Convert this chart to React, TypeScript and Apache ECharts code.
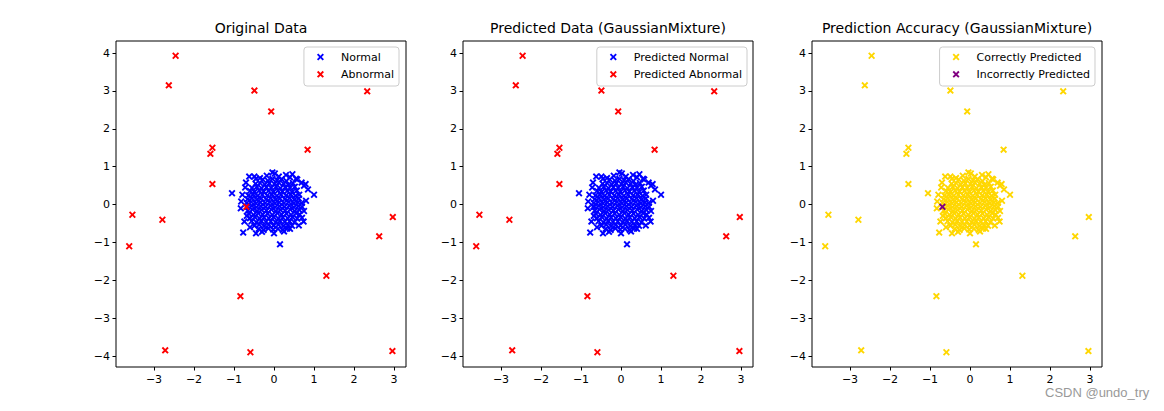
import React, { useEffect, useRef } from "react";
import * as echarts from "echarts";

// ---- Data ----
const normalPoints: number[][] = [
  [-0.28, 0.66], [-0.15, 0.63], [-0.04, 0.68], [0.08, 0.64], [0.19, 0.67], [0.31, 0.62],
  [-0.46, 0.55], [-0.35, 0.57], [-0.23, 0.53], [-0.12, 0.56], [0.01, 0.54], [0.12, 0.58], [0.24, 0.55], [0.36, 0.52], [0.47, 0.57],
  [-0.55, 0.44], [-0.43, 0.47], [-0.31, 0.43], [-0.19, 0.46], [-0.07, 0.44], [0.05, 0.47], [0.16, 0.43], [0.28, 0.46], [0.4, 0.44], [0.52, 0.47],
  [-0.6, 0.36], [-0.49, 0.33], [-0.37, 0.37], [-0.26, 0.34], [-0.14, 0.36], [-0.02, 0.33], [0.1, 0.37], [0.21, 0.34], [0.33, 0.36], [0.45, 0.33], [0.57, 0.37],
  [-0.64, 0.24], [-0.52, 0.27], [-0.41, 0.23], [-0.29, 0.26], [-0.17, 0.24], [-0.05, 0.27], [0.07, 0.23], [0.18, 0.26], [0.3, 0.24], [0.42, 0.27], [0.54, 0.23], [0.63, 0.26],
  [-0.66, 0.14], [-0.55, 0.17], [-0.43, 0.13], [-0.32, 0.16], [-0.2, 0.14], [-0.08, 0.17], [0.04, 0.13], [0.15, 0.16], [0.27, 0.14], [0.39, 0.17], [0.51, 0.13], [0.62, 0.16],
  [-0.68, 0.04], [-0.57, 0.07], [-0.45, 0.03], [-0.34, 0.06], [-0.22, 0.04], [-0.1, 0.07], [0.02, 0.03], [0.13, 0.06], [0.25, 0.04], [0.37, 0.07], [0.49, 0.03], [0.6, 0.06], [0.69, 0.04],
  [-0.67, -0.06], [-0.56, -0.03], [-0.44, -0.07], [-0.33, -0.04], [-0.21, -0.06], [-0.09, -0.03], [0.03, -0.07], [0.14, -0.04], [0.26, -0.06], [0.38, -0.03], [0.5, -0.07], [0.61, -0.04], [0.7, -0.06],
  [-0.65, -0.16], [-0.54, -0.13], [-0.42, -0.17], [-0.31, -0.14], [-0.19, -0.16], [-0.07, -0.13], [0.05, -0.17], [0.16, -0.14], [0.28, -0.16], [0.4, -0.13], [0.52, -0.17], [0.63, -0.14],
  [-0.63, -0.24], [-0.51, -0.27], [-0.4, -0.23], [-0.28, -0.26], [-0.16, -0.24], [-0.04, -0.27], [0.08, -0.23], [0.19, -0.26], [0.31, -0.24], [0.43, -0.27], [0.55, -0.23], [0.64, -0.26],
  [-0.6, -0.36], [-0.48, -0.33], [-0.36, -0.37], [-0.25, -0.34], [-0.13, -0.36], [-0.01, -0.33], [0.11, -0.37], [0.22, -0.34], [0.34, -0.36], [0.46, -0.33], [0.58, -0.37],
  [-0.56, -0.44], [-0.44, -0.47], [-0.32, -0.43], [-0.2, -0.46], [-0.08, -0.44], [0.04, -0.47], [0.15, -0.43], [0.27, -0.46], [0.39, -0.44], [0.51, -0.47],
  [-0.49, -0.56], [-0.37, -0.53], [-0.25, -0.57], [-0.13, -0.54], [-0.01, -0.56], [0.11, -0.53], [0.23, -0.57], [0.35, -0.54], [0.45, -0.56],
  [-0.38, -0.64], [-0.26, -0.67], [-0.14, -0.63], [-0.02, -0.66], [0.1, -0.64], [0.22, -0.67], [0.33, -0.63],
  [-1.05, 0.3], [-0.04, 0.85], [0.02, 0.82], [-0.49, 0.74], [-0.62, 0.74], [-0.45, 0.68], [0.3, 0.78], [0.46, 0.8], [0.4, 0.72],
  [0.79, 0.54], [0.69, 0.58], [0.75, 0.5], [1.0, 0.26], [0.75, -0.17], [0.74, -0.45], [0.7, -0.35], [-0.77, -0.74], [-0.45, -0.76],
  [0.0, -0.76], [0.25, -0.71], [0.15, -1.05], [-0.79, 0.26], [-0.83, -0.1], [-0.74, -0.45], [-0.72, 0.45], [-0.7, 0.58], [-0.68, -0.3],
  [0.8, 0.1], [0.58, 0.66], [-0.18, 0.76], [0.12, 0.74], [-0.3, -0.72], [0.4, -0.64], [0.62, -0.55], [-0.6, -0.6], [0.85, 0.4],
  [-0.82, 0.08], [0.55, 0.68], [-0.35, 0.7],
];

const abnormalPoints: number[][] = [
  [-2.46, 3.93], [-2.63, 3.15], [-0.49, 3.01], [-0.07, 2.46], [2.33, 2.99],
  [-1.54, 1.5], [-1.59, 1.34], [0.84, 1.45], [-1.54, 0.54], [-0.69, -0.06],
  [-3.54, -0.27], [-2.79, -0.4], [2.97, -0.33], [-3.62, -1.1], [2.63, -0.84],
  [1.31, -1.88], [-0.84, -2.42], [-2.72, -3.85], [-0.59, -3.9], [2.96, -3.87],
];

// the abnormal point that the model predicted as normal
const misclassifiedPoints: number[][] = [[-0.69, -0.06]];

const xTicks = [-3, -2, -1, 0, 1, 2, 3];
const yTicks = [-4, -3, -2, -1, 0, 1, 2, 3, 4];

const titles = ["Original Data", "Predicted Data (GaussianMixture)", "Prediction Accuracy (GaussianMixture)"];

const X_MIN = -3.95, X_MAX = 3.3, Y_MIN = -4.29, Y_MAX = 4.32;

const CROSS = "path://M0,1.9L1.9,0L5,3.1L8.1,0L10,1.9L6.9,5L10,8.1L8.1,10L5,6.9L1.9,10L0,8.1L3.1,5Z";

const FONT = "DejaVu Sans";

export default function App() {
  const ref = useRef<HTMLDivElement>(null);
  useEffect(() => {
    document.body.style.margin = "0";
    if (!ref.current) return;
    const chart = echarts.init(ref.current, null, { renderer: "svg" });

    const isMis = (p: number[]) => misclassifiedPoints.some((m) => m[0] === p[0] && m[1] === p[1]);
    const predictedAbnormal = abnormalPoints.filter((p) => !isMis(p));
    const predictedNormal = [...normalPoints, ...misclassifiedPoints];
    const correct = [...normalPoints, ...predictedAbnormal];

    const gridLefts = [116, 463, 812];
    const centers = gridLefts.map((l) => l + 145);
    const fmt = (v: number) => String(v).replace("-", "\u2212");

    const grid = gridLefts.map((l) => ({
      left: l, width: 290, top: 41, height: 326,
      show: true, borderColor: "#000", borderWidth: 1, backgroundColor: "#fff",
    }));
    const xAxis = gridLefts.map((_, i) => ({
      type: "value", gridIndex: i, min: X_MIN, max: X_MAX, position: "bottom",
      splitLine: { show: false }, axisLine: { show: false, onZero: false },
      axisTick: { show: true, inside: false, length: 3.5, lineStyle: { color: "#000", width: 1 }, customValues: xTicks },
      axisLabel: { color: "#000", fontSize: 11, fontFamily: FONT, margin: 7, customValues: xTicks, formatter: fmt },
    }));
    const yAxis = gridLefts.map((_, i) => ({
      type: "value", gridIndex: i, min: Y_MIN, max: Y_MAX, position: "left",
      splitLine: { show: false }, axisLine: { show: false, onZero: false },
      axisTick: { show: true, inside: false, length: 3.5, lineStyle: { color: "#000", width: 1 }, customValues: yTicks },
      axisLabel: { color: "#000", fontSize: 11, fontFamily: FONT, margin: 6, customValues: yTicks, formatter: fmt },
    }));

    const mk = (name: string, data: number[][], color: string, i: number) => ({
      type: "scatter", name, data, xAxisIndex: i, yAxisIndex: i,
      symbol: CROSS, symbolSize: 7, itemStyle: { color, opacity: 1 },
    });

    const legendRights = [765, 417, 69];
    const legendData = [["Normal", "Abnormal"], ["Predicted Normal", "Predicted Abnormal"], ["Correctly Predicted", "Incorrectly Predicted"]];
    const legend = legendData.map((d, i) => ({
      data: d, orient: "vertical", right: legendRights[i], top: 47,
      backgroundColor: "#fff", borderColor: "#ccc", borderWidth: 1, borderRadius: 3,
      padding: [3, 5, 4.7, 13], itemGap: 3.3, itemWidth: 7, itemHeight: 7,
      icon: CROSS, selectedMode: false,
      textStyle: { fontSize: 11, fontFamily: FONT, color: "#000", lineHeight: 14, padding: [0, 0, 0, 12] },
    }));

    chart.setOption({
      animation: false,
      title: titles.map((t, i) => ({
        text: t, left: centers[i], top: 21, textAlign: "center", padding: 0,
        textStyle: { fontSize: 14, fontWeight: "normal", fontFamily: FONT, color: "#000" },
      })),
      grid, xAxis, yAxis, legend,
      series: [
        mk("Normal", normalPoints, "#0000ff", 0),
        mk("Abnormal", abnormalPoints, "#ff0000", 0),
        mk("Predicted Normal", predictedNormal, "#0000ff", 1),
        mk("Predicted Abnormal", predictedAbnormal, "#ff0000", 1),
        mk("Correctly Predicted", correct, "#ffd700", 2),
        mk("Incorrectly Predicted", misclassifiedPoints, "#800080", 2),
      ],
      graphic: [{
        type: "text", left: 1045, top: 386,
        style: { text: "CSDN @undo_try", fill: "#999", fontSize: 13, fontFamily: "Liberation Sans" },
      }],
    });
    return () => chart.dispose();
  }, []);
  return <div ref={ref} style={{ width: 1164, height: 411 }} />;
}
